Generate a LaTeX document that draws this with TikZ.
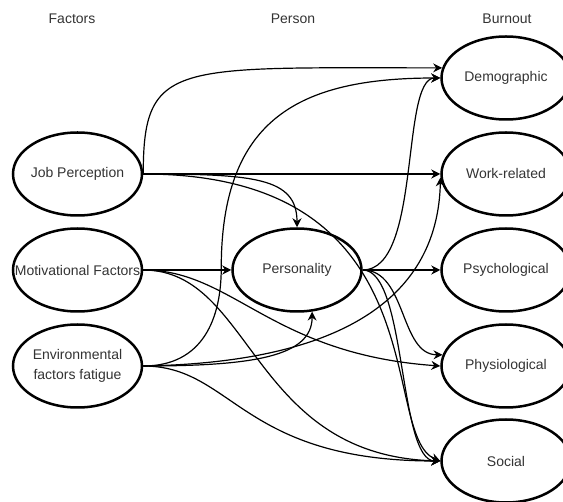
\documentclass[tikz,border=0pt]{standalone}
\usepackage{fontspec}
\setmainfont{Liberation Sans}
\usepackage{xcolor}
\usetikzlibrary{shapes.geometric, arrows.meta}
\definecolor{textgray}{rgb}{0.2,0.2,0.2}

\begin{document}
\begin{tikzpicture}[x=1pt, y=-1pt,
    oval/.style={ellipse, draw, line width=2.5pt, minimum width=129pt, minimum height=83pt, inner xsep=-20pt, inner ysep=0pt, align=center, font=\fontsize{14}{20}\selectfont, text=textgray},
    coltitle/.style={font=\fontsize{14}{20}\selectfont, text=textgray},
    arrow/.style={-{Stealth[length=9pt, width=9pt, inset=3pt]}, line width=1.2pt}
]
\clip (0,0) rectangle (563,502);

% column titles
\node[coltitle] (factitle) at (72,19) {Factors};
\node[coltitle] (perstitle) at (293,19) {Person};
\node[coltitle] (burntitle) at (507,19) {Burnout};

% factors
\node[oval] (jobp) at (77.5,174) {Job Perception};
\node[oval] (motiv) at (77.5,270) {Motivational Factors};
\node[oval] (envf) at (77.5,366) {Environmental\\factors fatigue};

% person
\node[oval] (pers) at (297,270) {Personality};

% burnout
\node[oval] (demo) at (506,78) {Demographic};
\node[oval] (work) at (506,174) {Work-related};
\node[oval] (psych) at (506,270) {Psychological};
\node[oval] (physio) at (506,366) {Physiological};
\node[oval] (social) at (506,461) {Social};

% job perception
\draw[arrow] (jobp.east) .. controls +(0,-114) and +(-268,0) .. (demo.171);
\draw[arrow] (jobp.east) -- (work.west);
\draw[arrow] (jobp.east) .. controls +(110,0) and +(0,-50) .. (pers.north);
\draw[arrow] (jobp.east) .. controls +(300,0) and +(-62,-25) .. (social.west);

% motivational factors
\draw[arrow] (motiv.east) -- (pers.west);
\draw[arrow] (motiv.east) .. controls +(90,0) and +(-170,-12) .. (physio.west);
\draw[arrow] (motiv.east) .. controls +(110,0) and +(-190,-5) .. (social.west);

% environmental factors
\draw[arrow] (envf.east) .. controls +(60,0) and +(0,50) .. ++(78,-98) .. controls +(0,-150) and +(-140,0) .. (demo.west);
\draw[arrow] (envf.east) .. controls +(238,-4) and +(-2,93) .. (work.183);
\draw[arrow] (envf.east) .. controls +(110,0) and +(0,45) .. (pers.290);
\draw[arrow] (envf.east) .. controls +(90,0) and +(-200,0) .. (social.west);

% personality
\draw[arrow] (pers.east) .. controls +(59,0) and +(-40,0) .. (demo.west);
\draw[arrow] (pers.east) -- (psych.west);
\draw[arrow] (pers.east) .. controls +(44,0) and +(-43,0) .. (physio.170);
\draw[arrow] (pers.east) .. controls +(44,0) and +(-42,0) .. (social.west);

\end{tikzpicture}
\end{document}
